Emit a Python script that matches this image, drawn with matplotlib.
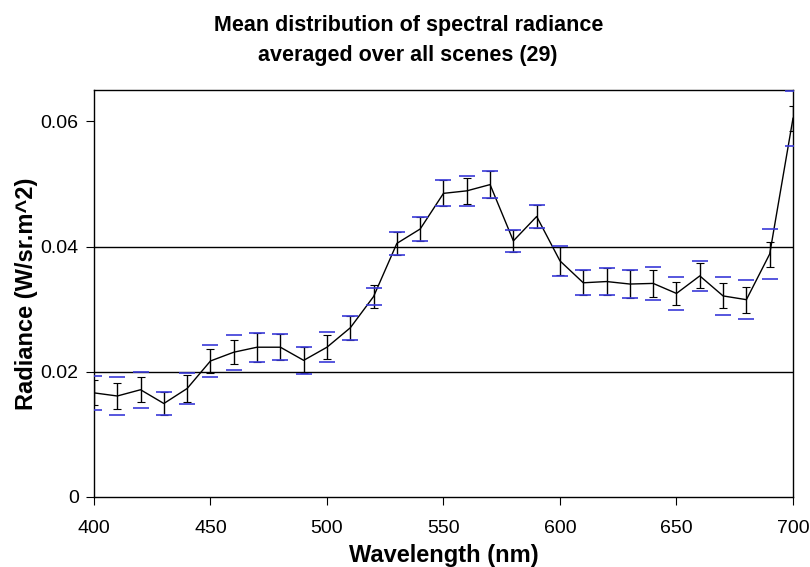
import numpy as np
import matplotlib
matplotlib.use("Agg")
import matplotlib.pyplot as plt

plt.rcParams['font.family'] = ['Liberation Sans', 'DejaVu Sans']

# wavelength (nm) and mean radiance over 29 scenes
wavelength = list(range(400, 701, 10))
radiance = [0.0166, 0.0161, 0.0171, 0.0149, 0.0173, 0.0217, 0.0231, 0.0239,
            0.0239, 0.0218, 0.0239, 0.0270, 0.0320, 0.0405, 0.0428, 0.0485,
            0.0489, 0.0499, 0.0409, 0.0448, 0.0377, 0.0342, 0.0344, 0.0340,
            0.0341, 0.0325, 0.0353, 0.0321, 0.0315, 0.0388, 0.0605]
# black error bars
err_black = [0.0020, 0.0020, 0.0020, 0.0019, 0.0021, 0.0019, 0.0019, 0.0023,
             0.0021, 0.0021, 0.0019, 0.0019, 0.0018, 0.0018, 0.0019, 0.0021,
             0.0021, 0.0022, 0.0017, 0.0018, 0.0022, 0.0020, 0.0021, 0.0022,
             0.0022, 0.0019, 0.0020, 0.0020, 0.0021, 0.0020, 0.0020]
# blue dash offsets
err_blue = [0.0027, 0.0030, 0.0029, 0.0019, 0.0024, 0.0026, 0.0028, 0.0023,
            0.0021, 0.0022, 0.0024, 0.0019, 0.0013, 0.0018, 0.0019, 0.0021,
            0.0024, 0.0022, 0.0018, 0.0018, 0.0024, 0.0020, 0.0021, 0.0023,
            0.0026, 0.0026, 0.0024, 0.0030, 0.0031, 0.0040, 0.0044]

x = np.array(wavelength)
y = np.array(radiance)
eb = np.array(err_blue)

fig = plt.figure(figsize=(8.1, 5.67), dpi=100)
ax = fig.add_axes([0.116, 0.124, 0.863, 0.717])

for g in [0.02, 0.04]:
    ax.axhline(g, color='black', lw=1, zorder=1)

ax.errorbar(x, y, yerr=err_black, color='black', lw=1, elinewidth=1,
            capsize=3, capthick=0.8, zorder=3)
ax.plot(x, y + eb, ls='none', marker='_', ms=11, mew=1.2, color='#3a3ad8', zorder=4)
ax.plot(x, y - eb, ls='none', marker='_', ms=11, mew=1.2, color='#3a3ad8', zorder=4)

ax.set_xlim(400, 700)
ax.set_ylim(0, 0.065)
ax.set_xticks(range(400, 701, 50))
ax.set_yticks([0, 0.02, 0.04, 0.06])
ax.set_yticklabels(['0', '0.02', '0.04', '0.06'])
ax.tick_params(axis='x', direction='out', length=6, labelsize=14, pad=11)
ax.tick_params(axis='y', direction='out', length=6, labelsize=14, pad=5)
for s in ax.spines.values():
    s.set_linewidth(1)

ax.set_xlabel('Wavelength (nm)', fontsize=17, fontweight='bold', labelpad=5)
ax.set_ylabel('Radiance (W/sr.m^2)', fontsize=17, fontweight='bold', labelpad=2)
fig.text(0.504, 0.928, 'Mean distribution of spectral radiance\naveraged over all scenes (29)',
         ha='center', va='center', fontsize=15.5, fontweight='bold', linespacing=1.55)

fig.savefig('out.png', dpi=100)
